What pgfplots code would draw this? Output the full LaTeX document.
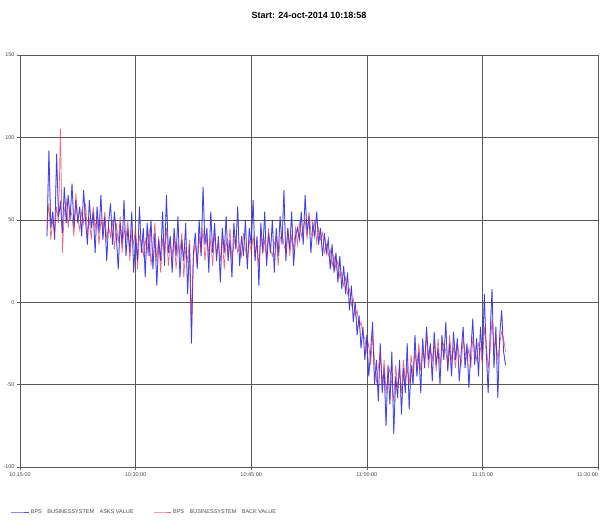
\documentclass[border=0pt]{standalone}
\usepackage{pgfplots}
\usepackage{pgfplotstable}
\pgfplotsset{compat=1.18}
\usepackage{fontspec}
\setmainfont{Liberation Sans}
\definecolor{serblue}{RGB}{45,45,235}
\definecolor{serred}{RGB}{230,40,70}
\pgfplotstableread{
t b r
3.50 40 45
3.75 92 60
4.00 45 38
4.25 55 50
4.50 38 42
4.75 90 58
5.00 52 48
5.25 60 105
5.50 42 30
5.75 70 55
6.00 48 62
6.25 65 45
6.50 50 58
6.75 72 52
7.00 45 40
7.25 62 66
7.50 48 50
7.75 58 44
8.00 40 55
8.25 68 48
8.50 50 60
8.75 35 42
9.00 62 50
9.25 45 38
9.50 55 58
9.75 30 45
10.00 58 52
10.25 42 35
10.50 65 50
10.75 38 44
11.00 52 55
11.25 25 38
11.50 48 46
11.75 60 40
12.00 35 50
12.25 55 32
12.50 40 48
12.75 20 36
13.00 48 52
13.25 35 30
13.50 62 45
13.75 28 38
14.00 45 50
14.25 30 25
14.50 55 42
14.75 18 35
15.00 40 46
15.25 25 20
15.50 58 40
15.75 30 36
16.00 45 28
16.25 15 38
16.50 48 30
16.75 28 45
17.00 50 22
17.25 20 35
17.50 42 48
17.75 10 25
18.00 38 40
18.25 25 18
18.50 55 38
18.75 22 30
19.00 65 45
19.25 30 22
19.50 40 36
19.75 18 28
20.00 45 40
20.25 28 20
20.50 52 35
20.75 15 30
21.00 38 42
21.25 25 15
21.50 48 32
21.75 5 25
22.00 35 38
22.25 -25 -10
22.50 30 28
22.75 42 35
23.00 20 22
23.25 50 40
23.50 28 30
23.75 70 45
24.00 35 25
24.25 45 40
24.50 18 30
24.75 55 38
25.00 30 22
25.25 48 42
25.50 25 30
25.75 40 35
26.00 12 25
26.25 45 40
26.50 30 20
26.75 52 38
27.00 25 30
27.25 38 45
27.50 15 25
27.75 48 35
28.00 32 40
28.25 58 30
28.50 22 35
28.75 40 28
29.00 28 42
29.25 50 32
29.50 20 25
29.75 45 38
30.00 35 30
30.25 62 40
30.50 25 28
30.75 40 35
31.00 10 22
31.25 48 42
31.50 30 30
31.75 55 38
32.00 22 25
32.25 42 45
32.50 30 32
32.75 50 28
33.00 18 35
33.25 45 40
33.50 28 22
33.75 52 38
34.00 35 42
34.25 68 35
34.50 25 30
34.75 45 45
35.00 32 28
35.25 55 40
35.50 22 32
35.75 40 45
36.00 45 35
36.25 38 48
36.50 55 40
36.75 35 45
37.00 65 50
37.25 42 38
37.50 52 55
37.75 30 42
38.00 48 40
38.25 40 50
38.50 55 36
38.75 35 45
39.00 45 38
39.25 28 42
39.50 42 30
39.75 30 35
40.00 38 28
40.25 20 32
40.50 35 22
40.75 18 28
41.00 30 20
41.25 12 25
41.50 28 15
41.75 8 18
42.00 22 10
42.25 5 15
42.50 18 5
42.75 -5 8
43.00 10 -2
43.25 -12 2
43.50 0 -8
43.75 -20 -5
44.00 -8 -15
44.25 -28 -12
44.50 -15 -20
44.75 -35 -22
45.00 -20 -30
45.25 -45 -25
45.50 -30 -38
45.75 -12 -20
46.00 -50 -35
46.25 -35 -48
46.50 -60 -40
46.75 -25 -30
47.00 -55 -50
47.25 -40 -35
47.50 -75 -55
47.75 -38 -45
48.00 -62 -40
48.25 -30 -50
48.50 -80 -60
48.75 -45 -38
49.00 -58 -52
49.25 -35 -42
49.50 -68 -55
49.75 -40 -35
50.00 -55 -48
50.25 -25 -40
50.50 -65 -50
50.75 -38 -32
51.00 -50 -45
51.25 -20 -30
51.50 -45 -40
51.75 -30 -25
52.00 -55 -42
52.25 -22 -30
52.50 -40 -35
52.75 -15 -20
53.00 -35 -40
53.25 -25 -28
53.50 -48 -35
53.75 -18 -25
54.00 -38 -42
54.25 -28 -22
54.50 -50 -38
54.75 -20 -30
55.00 -35 -25
55.25 -12 -30
55.50 -42 -38
55.75 -25 -20
56.00 -45 -35
56.25 -18 -28
56.50 -35 -40
56.75 -22 -25
57.00 -48 -32
57.25 -30 -38
57.50 -15 -22
57.75 -40 -30
58.00 -25 -35
58.25 -52 -28
58.50 -30 -40
58.75 -10 -22
59.00 -38 -30
59.25 -22 -35
59.50 -45 -25
59.75 -15 -28
60.00 -35 -38
60.25 5 -15
60.50 -30 -25
60.75 -55 -40
61.00 -20 -30
61.25 8 -10
61.50 -40 -28
61.75 -15 -22
62.00 -58 -35
62.25 -20 -25
62.50 -5 -18
62.75 -30 -22
63.00 -38 -30
}\datatable
\begin{document}
\begin{tikzpicture}
\begin{axis}[
  at={(0,0)}, anchor=south west,
  scale only axis,
  width=578pt, height=412pt,
  xmin=0, xmax=75, ymin=-100, ymax=150,
  xtick={0,15,30,45,60,75},
  xticklabels={10:15:00,10:30:00,10:45:00,11:00:00,11:15:00,\makebox[0pt][r]{11:30:00}},
  ytick={-100,-50,0,50,100,150},
  yticklabels={-100,-50,0,50,100,150},
  tick pos=left,
  tick align=outside,
  major tick length=3pt,
  tick style={black!60, line width=0.4pt},
  grid=major,
  major grid style={black!65, line width=0.5pt},
  axis line style={black!65, line width=0.5pt},
  ticklabel style={font=\fontsize{5.5}{6.5}\selectfont, text=black!70},
  xticklabel style={yshift=1pt},
  yticklabel style={xshift=1pt},
  title={\fontsize{9}{10}\selectfont\bfseries Start: 24-oct-2014 10:18:58},
  title style={yshift=27pt},
  legend columns=2,
  legend style={draw=none, fill=none, at={(0,0)}, anchor=west, xshift=-12pt, yshift=-45pt,
    font=\fontsize{5.5}{6.5}\selectfont, text=black!70,
    /tikz/every even column/.append style={column sep=18pt}},
  legend image post style={line width=0.6pt},
]
\addplot[serblue, line width=0.8pt, opacity=0.85] table[x=t, y=b] {\datatable};
\addlegendentry{BPS\quad BUSINESSYSTEM\quad ASKS VALUE}
\addplot[serred, line width=0.7pt, opacity=0.7] table[x=t, y=r] {\datatable};
\addlegendentry{BPS\quad BUSINESSYSTEM\quad BACK VALUE}
\addplot[serblue, line width=0.6pt, opacity=0.45, forget plot] table[x=t, y=b] {\datatable};
\end{axis}
\pgfresetboundingbox
\path[use as bounding box] (-20pt,-54pt) rectangle (586pt,467pt);
\end{tikzpicture}
\end{document}
